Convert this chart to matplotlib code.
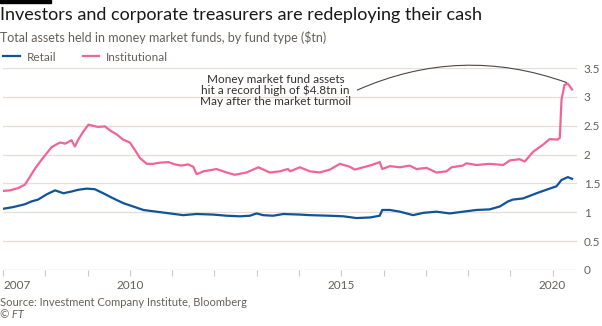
import matplotlib
matplotlib.use("Agg")
import matplotlib.pyplot as plt
from matplotlib.patches import Rectangle

# values ($tn)
inst_years = [2007.00, 2007.17, 2007.36, 2007.52, 2007.64, 2007.76, 2007.91, 2008.03, 2008.15, 2008.27,
              2008.35, 2008.47, 2008.62, 2008.70, 2008.78, 2008.90, 2009.02, 2009.13, 2009.25, 2009.41,
              2009.53, 2009.69, 2009.84, 2010.00, 2010.12, 2010.24, 2010.40, 2010.55, 2010.71, 2010.91,
              2011.07, 2011.22, 2011.38, 2011.50, 2011.58, 2011.74, 2011.90, 2012.05, 2012.29, 2012.48,
              2012.76, 2013.04, 2013.31, 2013.55, 2013.74, 2013.79, 2014.02, 2014.26, 2014.49, 2014.73,
              2014.97, 2015.20, 2015.32, 2015.52, 2015.72, 2015.91, 2015.97, 2016.15, 2016.39, 2016.62,
              2016.78, 2017.02, 2017.25, 2017.49, 2017.61, 2017.88, 2017.96, 2018.20, 2018.51, 2018.83,
              2018.99, 2019.22, 2019.34, 2019.54, 2019.77, 2019.93, 2020.12, 2020.17, 2020.21, 2020.28,
              2020.36, 2020.46]
inst_vals = [1.37, 1.38, 1.42, 1.48, 1.62, 1.76, 1.91, 2.02, 2.13, 2.18,
             2.21, 2.19, 2.25, 2.14, 2.26, 2.40, 2.52, 2.50, 2.48, 2.49,
             2.42, 2.35, 2.26, 2.21, 2.08, 1.94, 1.84, 1.84, 1.86, 1.87,
             1.83, 1.81, 1.83, 1.79, 1.66, 1.71, 1.73, 1.75, 1.69, 1.65,
             1.69, 1.78, 1.69, 1.71, 1.75, 1.71, 1.78, 1.71, 1.69, 1.74,
             1.84, 1.79, 1.74, 1.78, 1.82, 1.87, 1.75, 1.80, 1.78, 1.81,
             1.75, 1.77, 1.69, 1.71, 1.78, 1.81, 1.85, 1.82, 1.84, 1.82,
             1.90, 1.92, 1.88, 2.05, 2.17, 2.27, 2.26, 2.29, 2.95, 3.21,
             3.23, 3.13]

retail_years = [2007.00, 2007.24, 2007.52, 2007.68, 2007.83, 2008.03, 2008.23, 2008.43, 2008.62, 2008.78,
                2008.98, 2009.17, 2009.37, 2009.61, 2009.84, 2010.08, 2010.32, 2010.63, 2010.95, 2011.26,
                2011.58, 2011.97, 2012.29, 2012.60, 2012.84, 2013.00, 2013.15, 2013.39, 2013.63, 2014.02,
                2014.26, 2014.73, 2015.05, 2015.36, 2015.68, 2015.91, 2015.97, 2016.15, 2016.39, 2016.70,
                2016.94, 2017.25, 2017.57, 2017.88, 2018.20, 2018.51, 2018.75, 2018.95, 2019.06, 2019.30,
                2019.62, 2019.85, 2020.09, 2020.21, 2020.36, 2020.46]
retail_vals = [1.06, 1.09, 1.14, 1.19, 1.22, 1.31, 1.38, 1.33, 1.36, 1.39,
               1.41, 1.40, 1.33, 1.24, 1.16, 1.10, 1.04, 1.01, 0.98, 0.95,
               0.97, 0.96, 0.94, 0.93, 0.94, 0.98, 0.95, 0.94, 0.97, 0.96,
               0.95, 0.94, 0.93, 0.90, 0.91, 0.94, 1.04, 1.04, 1.01, 0.95,
               0.99, 1.01, 0.98, 1.01, 1.04, 1.05, 1.10, 1.19, 1.22, 1.24,
               1.33, 1.39, 1.45, 1.56, 1.61, 1.58]

x_ticks = [2007, 2010, 2015, 2020]
y_ticks = [0, 0.5, 1, 1.5, 2, 2.5, 3, 3.5]
y_labels = ['0', '0.5', '1', '1.5', '2', '2.5', '3', '3.5']

BLUE = '#0f5499'
PINK = '#f0649a'
GREY = '#66605c'
GRID = '#e6ddd4'

plt.rcParams['font.family'] = ['Lato', 'DejaVu Sans']

fig = plt.figure(figsize=(6.02, 3.26), dpi=100)
fig.patch.set_facecolor('white')
ax = fig.add_axes([0.005, 0.172, 0.953, 0.619])

ax.plot(retail_years, retail_vals, color=BLUE, lw=1.6, label='Retail', zorder=3)
ax.plot(inst_years, inst_vals, color=PINK, lw=1.6, label='Institutional', zorder=3)

ax.set_xlim(2007, 2020.57)
ax.set_ylim(0, 3.5)

# grid + axis styling
ax.set_yticks(y_ticks)
ax.set_yticklabels(y_labels)
ax.yaxis.tick_right()
ax.tick_params(axis='y', length=0, pad=5, labelsize=8.5, labelcolor=GREY)
for yv in y_ticks[1:]:
    ax.axhline(yv, color=GRID, lw=0.9, zorder=1)
ax.axhline(0, color='#d0c7bf', lw=0.9, zorder=1)
for s in ax.spines.values():
    s.set_visible(False)

ax.set_xticks(range(2007, 2021), minor=True)
ax.set_xticks(x_ticks)
ax.set_xticklabels([str(y) for y in x_ticks])
ax.tick_params(axis='x', which='both', length=4, color='#d0c7bf', width=0.8,
               labelsize=8.5, labelcolor=GREY, pad=3)
for lbl in ax.get_xticklabels():
    lbl.set_ha('left' if lbl.get_text() == '2007' else 'center')

# annotation
ax.text(2013.45, 3.11, 'Money market fund assets\nhit a record high of $4.8tn in\nMay after the market turmoil',
        ha='center', va='center', fontsize=8.5, color='#33302e', linespacing=1.0)
ax.annotate('', xy=(2020.33, 3.25), xytext=(2015.38, 3.12),
            arrowprops=dict(arrowstyle='-', color='#4d4845', lw=0.8,
                            connectionstyle='arc3,rad=-0.2', shrinkA=0, shrinkB=0))

ax.legend(loc='center left', bbox_to_anchor=(-0.012, 0.825), bbox_transform=fig.transFigure,
          ncol=2, frameon=False, fontsize=8.5, handlelength=1.4, handletextpad=0.6,
          columnspacing=2.2, labelcolor=GREY)

# titles and footer
fig.patches.append(Rectangle((0, 0.99), 0.085, 0.01, transform=fig.transFigure,
                             color='black', zorder=5))
fig.text(0.0, 1 - 15 / 326, 'Investors and corporate treasurers are redeploying their cash',
         fontsize=13, color='#1a1817', va='center')
fig.text(0.0, 1 - 37 / 326, 'Total assets held in money market funds, by fund type ($tn)',
         fontsize=9, color=GREY, va='center')
fig.text(0.0, 1 - 302 / 326, 'Source: Investment Company Institute, Bloomberg',
         fontsize=8, color=GREY, va='center')
fig.text(0.0, 1 - 315 / 326, '\u00a9 FT', fontsize=8, color=GREY, va='center', style='italic')

fig.savefig('out.png', dpi=100)
